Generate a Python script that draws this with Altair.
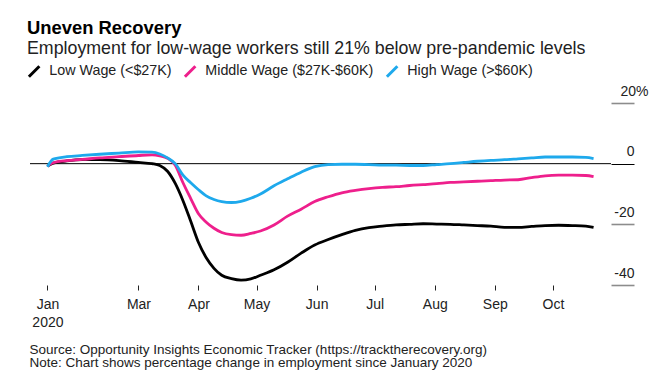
import altair as alt
import pandas as pd

# ---- data ----
dates = [
    "2020-01-14", "2020-01-17", "2020-01-24", "2020-02-01", "2020-02-10", "2020-02-20",
    "2020-03-01", "2020-03-08", "2020-03-12", "2020-03-16", "2020-03-20", "2020-03-24",
    "2020-03-28", "2020-04-01", "2020-04-05", "2020-04-09", "2020-04-13", "2020-04-18",
    "2020-04-23", "2020-04-28", "2020-05-03", "2020-05-10", "2020-05-17", "2020-05-24",
    "2020-05-31", "2020-06-07", "2020-06-14", "2020-06-21", "2020-06-28", "2020-07-05",
    "2020-07-12", "2020-07-19", "2020-07-26", "2020-08-02", "2020-08-09", "2020-08-16",
    "2020-08-23", "2020-08-30", "2020-09-06", "2020-09-13", "2020-09-20", "2020-09-27",
    "2020-10-04", "2020-10-11", "2020-10-18", "2020-10-22",
]
low_wage = [
    -0.8, 0.2, 0.9, 1.3, 1.3, 1.0,
    0.4, 0.0, -0.6, -2.5, -6.5, -12.2,
    -19.0, -26.0, -31.0, -34.5, -36.8, -37.9,
    -38.4, -38.0, -36.8, -35.0, -32.5, -29.5,
    -26.8, -25.0, -23.4, -22.0, -21.1, -20.6,
    -20.2, -20.0, -19.8, -19.9, -20.0, -20.2,
    -20.4, -20.6, -21.0, -21.0, -20.7, -20.4,
    -20.3, -20.4, -20.6, -21.0,
]
middle_wage = [
    -0.8, 0.3, 1.0, 1.4, 1.9, 2.3,
    2.7, 2.9, 2.6, 1.8, -0.5, -6.3,
    -11.5, -16.5, -19.3, -21.3, -22.7, -23.4,
    -23.6, -23.0, -22.2, -20.2, -17.3, -15.0,
    -12.5, -10.9, -9.6, -8.8, -8.2, -7.8,
    -7.6, -7.2, -6.9, -6.6, -6.2, -6.0,
    -5.8, -5.6, -5.4, -5.3, -4.6, -4.0,
    -3.8, -3.8, -3.9, -4.3,
]
high_wage = [
    -1.0, 1.5, 2.3, 2.7, 3.1, 3.5,
    3.9, 3.8, 3.2, 1.9, 0.0, -3.8,
    -6.3, -8.6, -10.6, -11.8, -12.5, -12.8,
    -12.4, -11.4, -10.0, -7.3, -5.0, -2.8,
    -1.0, -0.3, -0.2, -0.2, -0.3, -0.5,
    -0.5, -0.6, -0.6, -0.3, 0.0, 0.4,
    0.8, 1.1, 1.3, 1.6, 1.9, 2.2,
    2.2, 2.2, 2.1, 1.7,
]
series_names = ["Low Wage (<$27K)", "Middle Wage ($27K-$60K)", "High Wage (>$60K)"]
series_colors = ["#000000", "#ee1f8c", "#1ea9ec"]
y_ticks = [-40, -20, 0, 20]
x_tick_dates = [(1, 14), (3, 1), (4, 1), (5, 1), (6, 1), (7, 1), (8, 1), (9, 1), (10, 1)]

title_text = "Uneven Recovery"
subtitle_text = "Employment for low-wage workers still 21% below pre-pandemic levels"
footer_lines = [
    "Source: Opportunity Insights Economic Tracker (https://tracktherecovery.org)",
    "Note: Chart shows percentage change in employment since January 2020",
]

# ---- build table ----
rows = []
for name, vals in zip(series_names, [low_wage, middle_wage, high_wage]):
    for d, v in zip(dates, vals):
        rows.append({"date": d, "value": v, "series": name})
df = pd.DataFrame(rows)

FONT = "Liberation Sans"

x_scale = alt.Scale(
    type="utc",
    domain=[alt.DateTime(year=2020, month=1, date=5, utc=True),
            alt.DateTime(year=2020, month=10, date=31, utc=True)],
)
x_axis = alt.Axis(
    values=[alt.DateTime(year=2020, month=m, date=d, utc=True) for m, d in x_tick_dates],
    labelExpr="utcmonth(datum.value) == 0 ? ['Jan', '2020'] : utcFormat(datum.value, '%b')",
    domain=False, grid=False, ticks=True, tickSize=5, tickColor="#222", tickWidth=1,
    labelFont=FONT, labelFontSize=14, labelColor="#222", labelPadding=7,
    labelLineHeight=18, labelFlush=False, labelOverlap=False,
    title=footer_lines, titleFont=FONT, titleFontSize=13.5, titleFontWeight="normal",
    titleColor="#222", titleAnchor="start", titleAlign="left", titleX=-1, titleY=68,
    titleBaseline="alphabetic", titleLineHeight=13.5, titleLimit=640,
)
y_scale = alt.Scale(domain=[-40, 20], nice=False, zero=False)
y_axis = alt.Axis(
    orient="right", values=y_ticks, domain=False, grid=False,
    tickSize=23,
    tickColor={"condition": {"test": "datum.value === 0", "value": "#000000"}, "value": "#8c8c8c"},
    tickWidth={"condition": {"test": "datum.value === 0", "value": 1}, "value": 1.6},
    labelExpr="datum.value == 20 ? '20%' : '' + datum.value",
    labelFont=FONT, labelFontSize=14, labelColor="#222",
    labelAlign={"condition": {"test": "datum.value == 20", "value": "center"}, "value": "right"},
    labelBaseline="alphabetic", labelPadding=0, labelOffset=-8,
    title=None,
)

lines = alt.Chart(df).mark_line(strokeWidth=2.8, interpolate="monotone").encode(
    x=alt.X("date:T", scale=x_scale, axis=x_axis),
    y=alt.Y("value:Q", scale=y_scale, axis=y_axis),
    color=alt.Color(
        "series:N",
        scale=alt.Scale(domain=series_names, range=series_colors),
        legend=alt.Legend(
            title=None, orient="none", direction="horizontal", legendX=-3, legendY=-39,
            symbolType="M-1,1L1,-1", symbolSize=110, symbolStrokeWidth=3,
            labelFont=FONT, labelFontSize=14.3, labelColor="#222", labelOffset=8,
            labelLimit=400, columnPadding=6, padding=0,
        ),
    ),
)

zero = alt.Chart(pd.DataFrame({"value": [0]})).mark_rule(color="#000000", strokeWidth=1).encode(
    y=alt.Y("value:Q", scale=y_scale, axis=y_axis),
)

chart = alt.layer(zero, lines).properties(
    width=581, height=182,
    title=alt.TitleParams(
        text=title_text, subtitle=subtitle_text, anchor="start",
        font=FONT, fontSize=18.4, fontWeight="bold", color="#000000",
        subtitleFont=FONT, subtitleFontSize=17.8, subtitleColor="#222",
        subtitlePadding=3, offset=6,
    ),
    autosize=alt.AutoSizeParams(type="none"),
    padding={"left": 22, "top": 95, "right": 41, "bottom": 93},
    background="white",
).configure_view(stroke=None)

chart.save("out.html", embed_options={"renderer": "svg", "actions": False})
